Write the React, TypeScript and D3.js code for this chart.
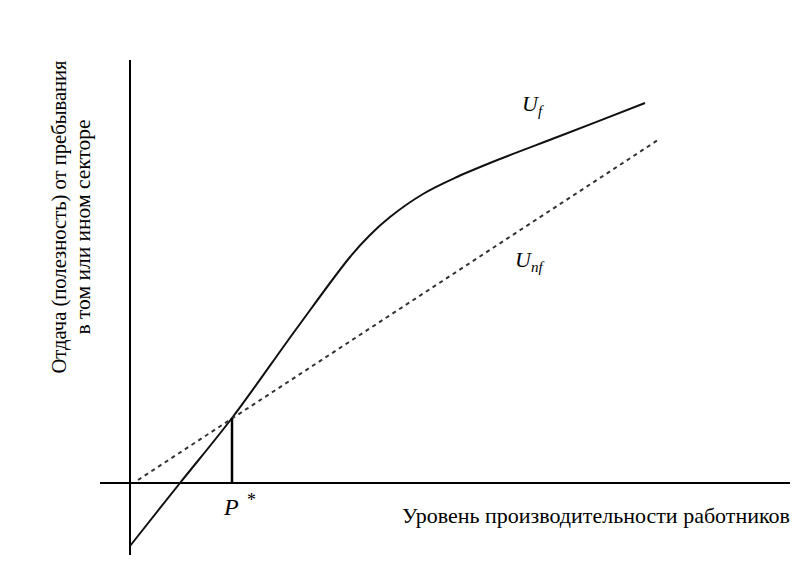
import React from "react";
import * as d3 from "d3";

const W = 800;
const H = 564;

// abstract units: x = productivity level, y = utility
const xDomain: [number, number] = [-3, 66];
const yDomain: [number, number] = [-7.2, 42.3];

const ufX = [0, 5, 10.2, 16.7, 22, 24, 26, 29.3, 32.7, 37, 43, 51.5];
const ufY = [-6.3, 0, 6.5, 15.5, 22.6, 24.8, 26.6, 28.9, 30.6, 32.4, 34.7, 38];

const unfX = [0.8, 52.8];
const unfY = [0.3, 34.3];

const pStar = 10.2;
const pStarY = 6.5;

const font = "'Liberation Serif', 'Times New Roman', Times, serif";

export default function App() {
  const x = d3.scaleLinear().domain(xDomain).range([100, 790]);
  const y = d3.scaleLinear().domain(yDomain).range([555, 60]);

  const line = d3
    .line<number>()
    .x((_, i) => x(ufX[i]))
    .y((d) => y(d))
    .curve(d3.curveCatmullRom.alpha(0.5));

  const dashLine = d3
    .line<number>()
    .x((_, i) => x(unfX[i]))
    .y((d) => y(d));

  const ts = { fontFamily: font };

  return (
    <svg
      width={W}
      height={H}
      style={{ position: "absolute", left: 0, top: 0, background: "#fff" }}
    >
      {/* axes */}
      <line x1={x(0)} x2={x(0)} y1={y(yDomain[1])} y2={y(yDomain[0])} stroke="#000" strokeWidth={2} />
      <line x1={x(xDomain[0])} x2={x(xDomain[1])} y1={y(0)} y2={y(0)} stroke="#000" strokeWidth={2.2} />

      {/* U_f */}
      <path d={line(ufY) || ""} fill="none" stroke="#111" strokeWidth={2} />
      {/* U_nf */}
      <path
        d={dashLine(unfY) || ""}
        fill="none"
        stroke="#333"
        strokeWidth={2}
        strokeDasharray="4,4"
      />
      {/* P* */}
      <line x1={x(pStar)} x2={x(pStar)} y1={y(pStarY)} y2={y(0)} stroke="#000" strokeWidth={2.5} />

      <text style={ts} x={x(pStar) - 8} y={y(0) + 32} fontSize={24} fontStyle="italic">P</text>
      <text style={ts} x={x(pStar) + 15} y={y(0) + 23} fontSize={18}>*</text>

      <text style={ts} x={522} y={111} fontSize={22} fontStyle="italic">
        U<tspan fontSize={15} dy={5}>f</tspan>
      </text>
      <text style={ts} x={515} y={267} fontSize={22} fontStyle="italic">
        U<tspan fontSize={15} dy={5}>nf</tspan>
      </text>

      <text style={ts} x={402} y={523} fontSize={22}>Уровень производительности работников</text>

      <g transform="translate(66,217) rotate(-90)">
        <text style={ts} x={0} y={0} fontSize={20.6} textAnchor="middle">Отдача (полезность) от пребывания</text>
        <text style={ts} x={-10} y={24} fontSize={21.5} textAnchor="middle">в том или ином секторе</text>
      </g>
    </svg>
  );
}
